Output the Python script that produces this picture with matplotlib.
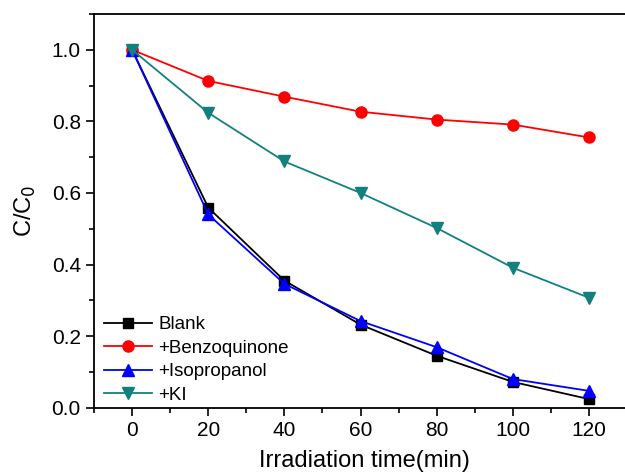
import matplotlib
matplotlib.use("Agg")
import matplotlib.pyplot as plt
from matplotlib.ticker import MultipleLocator

plt.rcParams['font.family'] = ['Liberation Sans', 'DejaVu Sans']

time = [0, 20, 40, 60, 80, 100, 120]
blank = [1.0, 0.559, 0.355, 0.232, 0.145, 0.072, 0.024]
benzoquinone = [1.0, 0.913, 0.869, 0.827, 0.805, 0.791, 0.755]
isopropanol = [1.0, 0.540, 0.346, 0.242, 0.169, 0.080, 0.047]
ki = [1.0, 0.824, 0.688, 0.600, 0.502, 0.391, 0.307]

fig = plt.figure(figsize=(6.25, 4.75), dpi=100)
W, H = 625, 475
ax = fig.add_axes([94 / W, 1 - 407.7 / H, (634 - 94) / W, (407.7 - 14) / H])

ms = 7
ax.plot(time, blank, '-s', color='black', lw=1.3, ms=ms, label='Blank')
ax.plot(time, benzoquinone, '-o', color='red', lw=1.3, ms=ms + 1, label='+Benzoquinone')
ax.plot(time, isopropanol, '-^', color='blue', lw=1.3, ms=ms + 1, label='+Isopropanol')
ax.plot(time, ki, '-v', color='#138080', lw=1.3, ms=ms + 1, label='+KI')

ax.set_xlim(-10, -10 + (634 - 94) / ((589 - 132) / 120))
ax.set_ylim(0, 1.1)
ax.xaxis.set_major_locator(MultipleLocator(20))
ax.xaxis.set_minor_locator(MultipleLocator(10))
ax.yaxis.set_major_locator(MultipleLocator(0.2))
ax.yaxis.set_minor_locator(MultipleLocator(0.1))
ax.yaxis.set_major_formatter(matplotlib.ticker.FormatStrFormatter('%.1f'))
ax.tick_params(which='major', direction='out', length=6, width=1.2, labelsize=15)
ax.tick_params(which='minor', direction='out', length=3.5, width=1.2)
for s in ax.spines.values():
    s.set_linewidth(1.3)

ax.set_xlabel('Irradiation time(min)', fontsize=17, labelpad=7)
ax.set_ylabel('C/C$_0$', fontsize=17, labelpad=9.5)

ax.legend(loc='lower left', bbox_to_anchor=(0.011, 0.0), frameon=False, fontsize=13.5,
          handlelength=2.6, handletextpad=0.3, labelspacing=0.34, borderaxespad=0.0,
          borderpad=0.2)

fig.savefig('out.png', dpi=100)
